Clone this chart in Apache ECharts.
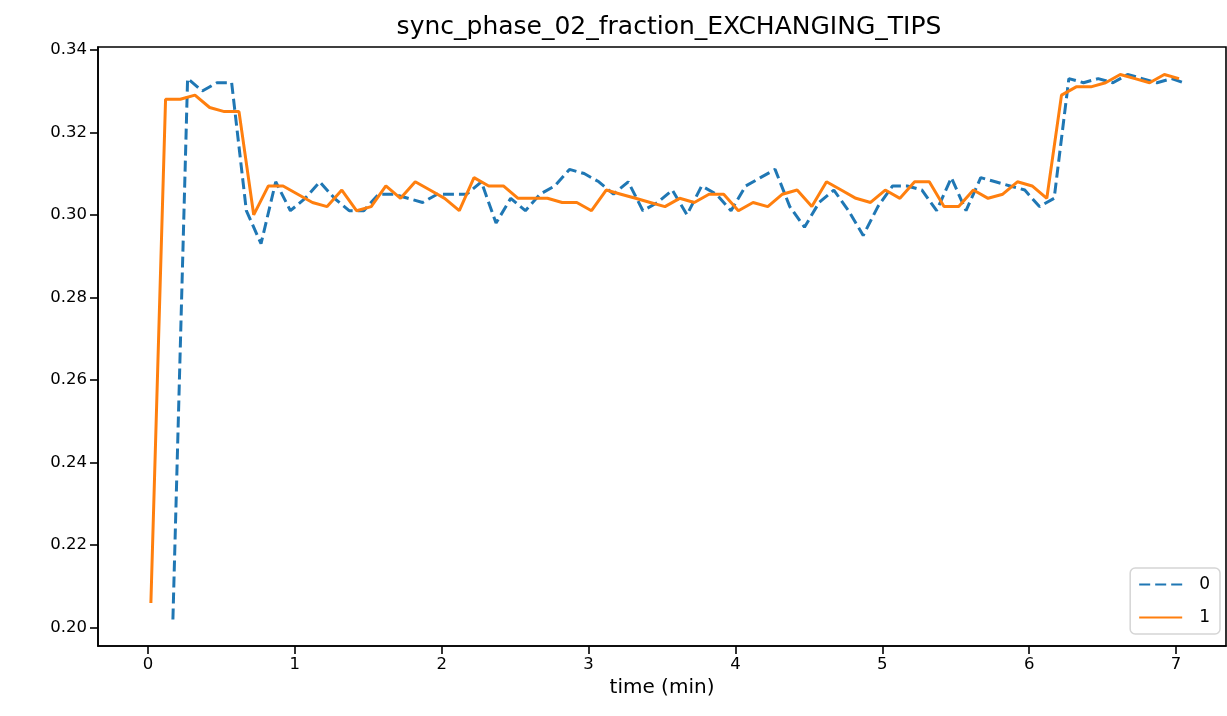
<!DOCTYPE html>
<html>
<head>
<meta charset="utf-8">
<title>sync_phase_02_fraction_EXCHANGING_TIPS</title>
<script src="https://cdn.jsdelivr.net/npm/echarts@6/dist/echarts.min.js"></script>
<style>
    html, body { margin: 0; padding: 0; background: #fff; }
    #chart { width: 1227px; height: 716px; }
</style>
</head>
<body>
<div id="chart"></div>
<script>
// series "0" (dashed blue)
var time0 = [0.17, 0.27, 0.37, 0.47, 0.57, 0.67, 0.77, 0.87, 0.97, 1.07,
    1.17, 1.27, 1.37, 1.47, 1.57, 1.67, 1.77, 1.87, 1.97, 2.07,
    2.17, 2.27, 2.37, 2.47, 2.57, 2.67, 2.77, 2.87, 2.97, 3.07,
    3.17, 3.27, 3.37, 3.47, 3.57, 3.67, 3.77, 3.87, 3.97, 4.07,
    4.17, 4.27, 4.37, 4.47, 4.57, 4.67, 4.77, 4.87, 4.97, 5.07,
    5.17, 5.27, 5.37, 5.47, 5.57, 5.67, 5.77, 5.87, 5.97, 6.07,
    6.17, 6.27, 6.37, 6.47, 6.57, 6.67, 6.77, 6.87, 6.97, 7.05];
var value0 = [0.202, 0.333, 0.330, 0.332, 0.332, 0.301, 0.293, 0.308, 0.301, 0.304,
    0.308, 0.304, 0.301, 0.301, 0.305, 0.305, 0.304, 0.303, 0.305, 0.305,
    0.305, 0.308, 0.298, 0.304, 0.301, 0.305, 0.307, 0.311, 0.310, 0.308,
    0.305, 0.308, 0.301, 0.303, 0.306, 0.300, 0.307, 0.305, 0.301, 0.307,
    0.309, 0.311, 0.302, 0.297, 0.303, 0.306, 0.301, 0.295, 0.302, 0.307,
    0.307, 0.306, 0.301, 0.309, 0.301, 0.309, 0.308, 0.307, 0.306, 0.302,
    0.304, 0.333, 0.332, 0.333, 0.332, 0.334, 0.333, 0.332, 0.333, 0.332];

// series "1" (solid orange)
var time1 = [0.02, 0.12, 0.22, 0.32, 0.42, 0.52, 0.62, 0.72, 0.82, 0.92,
    1.02, 1.12, 1.22, 1.32, 1.42, 1.52, 1.62, 1.72, 1.82, 1.92,
    2.02, 2.12, 2.22, 2.32, 2.42, 2.52, 2.62, 2.72, 2.82, 2.92,
    3.02, 3.12, 3.22, 3.32, 3.42, 3.52, 3.62, 3.72, 3.82, 3.92,
    4.02, 4.12, 4.22, 4.32, 4.42, 4.52, 4.62, 4.72, 4.82, 4.92,
    5.02, 5.12, 5.22, 5.32, 5.42, 5.52, 5.62, 5.72, 5.82, 5.92,
    6.02, 6.12, 6.22, 6.32, 6.42, 6.52, 6.62, 6.72, 6.82, 6.92,
    7.02];
var value1 = [0.206, 0.328, 0.328, 0.329, 0.326, 0.325, 0.325, 0.300, 0.307, 0.307,
    0.305, 0.303, 0.302, 0.306, 0.301, 0.302, 0.307, 0.304, 0.308, 0.306,
    0.304, 0.301, 0.309, 0.307, 0.307, 0.304, 0.304, 0.304, 0.303, 0.303,
    0.301, 0.306, 0.305, 0.304, 0.303, 0.302, 0.304, 0.303, 0.305, 0.305,
    0.301, 0.303, 0.302, 0.305, 0.306, 0.302, 0.308, 0.306, 0.304, 0.303,
    0.306, 0.304, 0.308, 0.308, 0.302, 0.302, 0.306, 0.304, 0.305, 0.308,
    0.307, 0.304, 0.329, 0.331, 0.331, 0.332, 0.334, 0.333, 0.332, 0.334,
    0.333];

var xTicks = [0, 1, 2, 3, 4, 5, 6, 7];
var yTicks = [0.20, 0.22, 0.24, 0.26, 0.28, 0.30, 0.32, 0.34];

function pairs(xs, ys) {
    return xs.map(function (x, i) { return [x, ys[i]]; });
}

var chart = echarts.init(document.getElementById('chart'), null, { renderer: 'canvas' });
var font = 'DejaVu Sans';

var option = {
    backgroundColor: '#fff',
    animation: false,
    textStyle: { fontFamily: font },
    title: {
        text: 'sync_phase_02_fraction_EXCHANGING_TIPS',
        left: 664,
        top: 10,
        textAlign: 'center',
        textStyle: { fontFamily: font, fontSize: 25, fontWeight: 'normal', color: '#000' }
    },
    grid: {
        left: 98, right: 1, top: 47, bottom: 70,
        show: true, borderColor: '#000', borderWidth: 1.6, backgroundColor: 'transparent'
    },
    legend: {
        orient: 'vertical',
        right: 7,
        bottom: 82,
        itemWidth: 43,
        itemHeight: 14,
        itemGap: 16,
        padding: [8, 10, 8, 8],
        borderColor: '#d5d5d5',
        borderWidth: 1.5,
        borderRadius: 5,
        backgroundColor: 'rgba(255,255,255,0.8)',
        itemStyle: { opacity: 0 },
        textStyle: { fontFamily: font, fontSize: 17, color: '#000', padding: [0, 0, 0, 12] },
        data: ['0', '1']
    },
    xAxis: {
        type: 'value',
        min: -0.34,
        max: 7.34,
        name: 'time (min)',
        nameLocation: 'middle',
        nameGap: 26,
        nameTextStyle: { fontFamily: font, fontSize: 20, color: '#000' },
        splitLine: { show: false },
        axisLine: { show: true, onZero: false, lineStyle: { color: '#000', width: 1.6 } },
        axisTick: { show: true, length: 8, customValues: xTicks, lineStyle: { color: '#000', width: 1.6 } },
        axisLabel: {
            customValues: xTicks, margin: 10, fontFamily: font, fontSize: 16.5, color: '#000',
            formatter: function (v) { return String(v); }
        }
    },
    yAxis: {
        type: 'value',
        min: 0.19557,
        max: 0.34065,
        splitLine: { show: false },
        axisLine: { show: true, onZero: false, lineStyle: { color: '#000', width: 1.6 } },
        axisTick: { show: true, length: 8, customValues: yTicks, lineStyle: { color: '#000', width: 1.6 } },
        axisLabel: {
            customValues: yTicks, margin: 11, fontFamily: font, fontSize: 16.5, color: '#000',
            formatter: function (v) { return v.toFixed(2); }
        }
    },
    series: [
        {
            name: '0',
            type: 'line',
            data: pairs(time0, value0),
            symbol: 'none',
            color: '#1f77b4',
            lineStyle: { color: '#1f77b4', width: 3, type: [11, 5], cap: 'butt' },
            z: 2
        },
        {
            name: '1',
            type: 'line',
            data: pairs(time1, value1),
            symbol: 'none',
            color: '#ff7f0e',
            lineStyle: { color: '#ff7f0e', width: 3, type: 'solid' },
            z: 3
        }
    ]
};

chart.setOption(option);
</script>
</body>
</html>
